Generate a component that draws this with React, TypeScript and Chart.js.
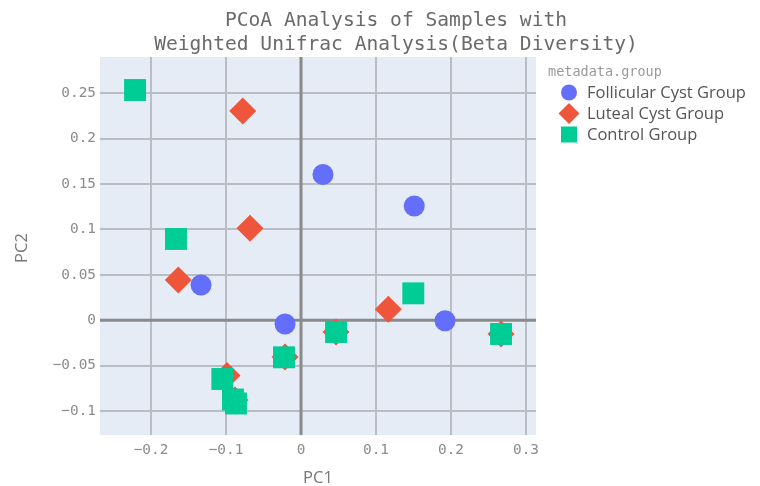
import React, { useEffect, useRef } from 'react';
import { Chart, registerables } from 'chart.js';

Chart.register(...registerables);

const chartTitle = ['PCoA Analysis of Samples with', 'Weighted Unifrac Analysis(Beta Diversity)'];
const xAxisTitle = 'PC1';
const yAxisTitle = 'PC2';
const legendTitle = 'metadata.group';
const seriesNames = ['Follicular Cyst Group', 'Luteal Cyst Group', 'Control Group'];
const seriesColors = ['#636EFA', '#EF553B', '#00CC96'];

const follicularX = [-0.1333, -0.0213, 0.0293, 0.151, 0.192];
const follicularY = [0.0388, -0.0042, 0.1605, 0.1258, -0.0006];

const lutealX = [-0.0777, -0.068, -0.1636, 0.1164, 0.2667, 0.0467, -0.0213, -0.0987, -0.088];
const lutealY = [0.2305, 0.1012, 0.0443, 0.012, -0.0152, -0.013, -0.0405, -0.061, -0.0878];

const controlX = [-0.2213, -0.1667, 0.1497, 0.2667, 0.0467, -0.0227, -0.1049, -0.0907, -0.0867];
const controlY = [0.2536, 0.0895, 0.0296, -0.0152, -0.013, -0.0409, -0.0648, -0.0874, -0.0918];

const xTicks = [-0.2, -0.1, 0, 0.1, 0.2, 0.3];
const xTickLabels = ['\u22120.2', '\u22120.1', '0', '0.1', '0.2', '0.3'];
const yTicks = [-0.1, -0.05, 0, 0.05, 0.1, 0.15, 0.2, 0.25];
const yTickLabels = ['\u22120.1', '\u22120.05', '0', '0.05', '0.1', '0.15', '0.2', '0.25'];

const xRange = [-0.268, 0.3133];
const yRange = [-0.1265, 0.29];

const MONO = '"DejaVu Sans Mono", "Liberation Mono", monospace';
const SANS = '"Open Sans", "Noto Sans", sans-serif';

const toPoints = (xs: number[], ys: number[]) => xs.map((x, i) => ({ x, y: ys[i] }));

const labelFor = (ticks: number[], labels: string[], v: number) => {
  const i = ticks.findIndex((t) => Math.abs(t - v) < 1e-9);
  return i >= 0 ? labels[i] : '';
};

function drawMarker(ctx: CanvasRenderingContext2D, kind: number, x: number, y: number) {
  ctx.beginPath();
  if (kind === 0) {
    ctx.arc(x, y, 8, 0, Math.PI * 2);
  } else if (kind === 1) {
    const r = 10.5;
    ctx.moveTo(x, y - r);
    ctx.lineTo(x + r, y);
    ctx.lineTo(x, y + r);
    ctx.lineTo(x - r, y);
    ctx.closePath();
  } else {
    ctx.rect(x - 8, y - 8, 16, 16);
  }
  ctx.fill();
}

const decorPlugin = {
  id: 'decor',
  beforeDraw(chart: any) {
    const { ctx, chartArea } = chart;
    ctx.save();
    ctx.fillStyle = '#E5ECF6';
    ctx.fillRect(chartArea.left, chartArea.top, chartArea.right - chartArea.left, chartArea.bottom - chartArea.top);
    ctx.restore();
  },
  beforeDatasetsDraw(chart: any) {
    const { ctx, chartArea, scales } = chart;
    ctx.save();
    ctx.strokeStyle = '#8a8a8a';
    ctx.lineWidth = 3;
    const x0 = scales.x.getPixelForValue(0);
    const y0 = scales.y.getPixelForValue(0);
    ctx.beginPath();
    ctx.moveTo(x0, chartArea.top);
    ctx.lineTo(x0, chartArea.bottom);
    ctx.moveTo(chartArea.left, y0);
    ctx.lineTo(chartArea.right, y0);
    ctx.stroke();
    ctx.restore();
  },
  afterDraw(chart: any) {
    const { ctx } = chart;
    ctx.save();
    // Title
    ctx.fillStyle = '#6a6a6a';
    ctx.font = `19.6px ${MONO}`;
    ctx.textAlign = 'center';
    ctx.textBaseline = 'middle';
    ctx.fillText(chartTitle[0], 396, 21);
    ctx.fillText(chartTitle[1], 396, 45);

    // Axis titles
    ctx.fillStyle = '#777777';
    ctx.font = `16.5px ${SANS}`;
    ctx.fillText(xAxisTitle, 318, 478);
    ctx.save();
    ctx.translate(22, 248);
    ctx.rotate(-Math.PI / 2);
    ctx.fillText(yAxisTitle, 0, 0);
    ctx.restore();

    // Legend
    ctx.textAlign = 'left';
    ctx.fillStyle = '#9a9a9a';
    ctx.font = `13.5px ${MONO}`;
    ctx.fillText(legendTitle, 548, 72);
    const ys = [92.5, 113.5, 134.5];
    seriesNames.forEach((name, i) => {
      ctx.fillStyle = seriesColors[i];
      drawMarker(ctx, i, 569, ys[i]);
      ctx.fillStyle = '#555555';
      ctx.font = `16.5px ${SANS}`;
      ctx.fillText(name, 587, ys[i] + 1);
    });
    ctx.restore();
  },
};

export default function App() {
  const canvasRef = useRef<HTMLCanvasElement | null>(null);

  useEffect(() => {
    if (!canvasRef.current) return;
    const gridColor = '#b9bdc4';
    const chart = new Chart(canvasRef.current, {
      type: 'scatter',
      data: {
        datasets: [
          {
            label: seriesNames[0],
            data: toPoints(follicularX, follicularY),
            backgroundColor: seriesColors[0],
            borderWidth: 0,
            pointStyle: 'circle',
            pointRadius: 10.5,
            order: 2,
          },
          {
            label: seriesNames[1],
            data: toPoints(lutealX, lutealY),
            backgroundColor: seriesColors[1],
            borderWidth: 0,
            pointStyle: 'rectRot',
            pointRadius: 13.5,
            order: 1,
          },
          {
            label: seriesNames[2],
            data: toPoints(controlX, controlY),
            backgroundColor: seriesColors[2],
            borderWidth: 0,
            pointStyle: 'rect',
            pointRadius: 15.5,
            order: 0,
          },
        ],
      },
      options: {
        responsive: false,
        maintainAspectRatio: false,
        animation: false,
        events: [],
        layout: { padding: { left: 0, top: 57, right: 224, bottom: 0 } },
        plugins: {
          legend: { display: false },
          title: { display: false },
          tooltip: { enabled: false },
        },
        scales: {
          x: {
            type: 'linear',
            min: xRange[0],
            max: xRange[1],
            afterBuildTicks: (s: any) => {
              s.ticks = xTicks.map((v) => ({ value: v }));
            },
            afterFit: (s: any) => {
              s.height = 51;
            },
            ticks: {
              callback: (v: any) => labelFor(xTicks, xTickLabels, Number(v)),
              font: { family: MONO, size: 14.4 },
              color: '#8c8c8c',
              padding: 7,
              maxRotation: 0,
              autoSkip: false,
            },
            grid: { color: gridColor, lineWidth: 2, drawTicks: false },
            border: { display: false },
          },
          y: {
            type: 'linear',
            min: yRange[0],
            max: yRange[1],
            afterBuildTicks: (s: any) => {
              s.ticks = yTicks.map((v) => ({ value: v }));
            },
            afterFit: (s: any) => {
              s.width = 100;
            },
            ticks: {
              callback: (v: any) => labelFor(yTicks, yTickLabels, Number(v)),
              font: { family: MONO, size: 14.4 },
              color: '#8c8c8c',
              padding: 4,
              autoSkip: false,
            },
            grid: { color: gridColor, lineWidth: 2, drawTicks: false },
            border: { display: false },
          },
        },
      },
      plugins: [decorPlugin],
    } as any);
    return () => chart.destroy();
  }, []);

  return (
    <div style={{ position: 'absolute', left: 0, top: 0, width: 760, height: 486, background: '#ffffff' }}>
      <canvas ref={canvasRef} width={760} height={486} style={{ display: 'block', width: 760, height: 486 }} />
    </div>
  );
}
